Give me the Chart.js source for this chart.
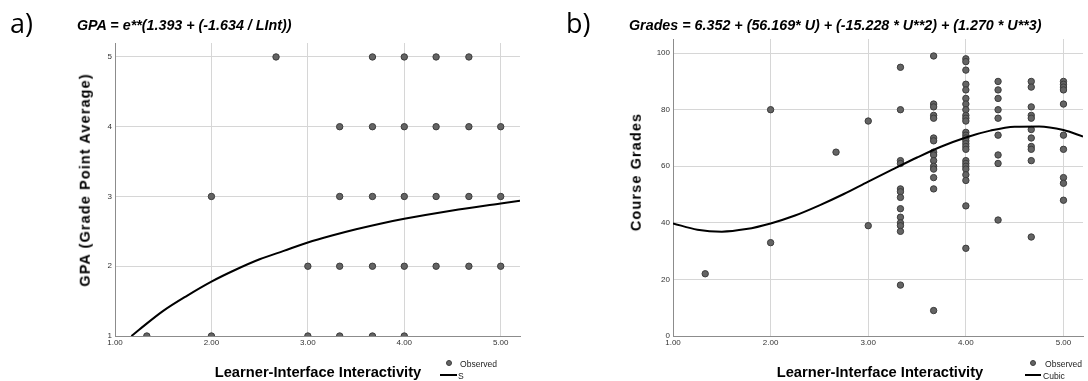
<!DOCTYPE html>
<html>
<head>
<meta charset="utf-8">
<script src="https://cdn.jsdelivr.net/npm/chart.js@4/dist/chart.umd.min.js"></script>
<style>
  html,body{margin:0;padding:0;background:#fff;}
  body{width:1088px;height:381px;position:relative;overflow:hidden;font-family:"Liberation Sans",Arial,sans-serif;}
  canvas{position:absolute;top:0;}
  .abs{position:absolute;white-space:nowrap;color:#000;}
  .panel{font-family:"Open Sans","Liberation Sans",sans-serif;font-size:27px;line-height:1;letter-spacing:0;}
  .title{font-weight:bold;font-style:italic;font-size:14.3px;line-height:1;}
  .xt{font-weight:bold;font-size:14.7px;line-height:1;transform:translate(-50%,-50%);}
  .yt{font-weight:bold;font-size:14.5px;letter-spacing:1.1px;line-height:1;transform:translate(-50%,-50%) rotate(-90deg);}
  .leg{font-family:"Liberation Sans",Arial,sans-serif;font-size:9.5px;line-height:1;color:#222;transform:scaleX(0.9);transform-origin:0 50%;}
  .dot{position:absolute;width:6px;height:6px;border-radius:50%;background:#646464;border:1px solid #3c3c3c;box-sizing:border-box;}
  .ln{position:absolute;height:2px;background:#000;}
</style>
</head>
<body>
<canvas id="c1" width="540" height="381" style="left:0;width:540px;height:381px"></canvas>
<canvas id="c2" width="548" height="381" style="left:540px;width:548px;height:381px"></canvas>

<div class="abs panel" style="left:10px;top:9px;">a)</div>
<div class="abs panel" style="left:566px;top:9px;">b)</div>
<div class="abs title" style="left:77px;top:18px;">GPA = e**(1.393 + (-1.634 / LInt))</div>
<div class="abs title" style="left:629px;top:18px;">Grades = 6.352 + (56.169* U) + (-15.228 * U**2) + (1.270 * U**3)</div>

<div class="abs yt" style="left:85px;top:180px;">GPA (Grade Point Average)</div>
<div class="abs yt" style="left:636px;top:172px;">Course Grades</div>
<div class="abs xt" style="left:318px;top:372px;">Learner-Interface Interactivity</div>
<div class="abs xt" style="left:880px;top:372px;">Learner-Interface Interactivity</div>

<div class="dot" style="left:446px;top:360px;"></div>
<div class="abs leg" style="left:460px;top:359px;">Observed</div>
<div class="ln" style="left:440px;top:374px;width:17px;"></div>
<div class="abs leg" style="left:458px;top:371px;">S</div>

<div class="dot" style="left:1030px;top:360px;"></div>
<div class="abs leg" style="left:1045px;top:359px;">Observed</div>
<div class="ln" style="left:1025px;top:374px;width:16px;"></div>
<div class="abs leg" style="left:1043px;top:371px;">Cubic</div>

<script>
// ---- Data: panel a) GPA vs Learner-Interface Interactivity ----
const gpaObsX = [2.67, 3.67, 4.00, 4.33, 4.67,
                 3.33, 3.67, 4.00, 4.33, 4.67, 5.00,
                 2.00, 3.33, 3.67, 4.00, 4.33, 4.67, 5.00,
                 3.00, 3.33, 3.67, 4.00, 4.33, 4.67, 5.00,
                 1.33, 2.00, 3.00, 3.33, 3.67, 4.00];
const gpaObsY = [5, 5, 5, 5, 5,
                 4, 4, 4, 4, 4, 4,
                 3, 3, 3, 3, 3, 3, 3,
                 2, 2, 2, 2, 2, 2, 2,
                 1, 1, 1, 1, 1, 1];
// S-curve fit
const gpaFitX = [1.17, 1.25, 1.5, 1.75, 2.0, 2.25, 2.5, 2.75, 3.0, 3.25, 3.5, 3.75, 4.0, 4.5, 5.0, 5.2];
const gpaFitY = [1.00, 1.09, 1.36, 1.58, 1.78, 1.95, 2.10, 2.22, 2.34, 2.44, 2.53, 2.61, 2.68, 2.80, 2.90, 2.94];
const gpaTicks = [1, 2, 3, 4, 5];

// ---- Data: panel b) Course Grades vs Learner-Interface Interactivity ----
const gradeLevels = [1.33, 2.00, 2.67, 3.00, 3.33, 3.67, 4.00, 4.33, 4.67, 5.00];
const grades133 = [22];
const grades200 = [80, 33];
const grades267 = [65];
const grades300 = [76, 39];
const grades333 = [95, 80, 62, 61, 52, 51, 49, 45, 42, 40, 39, 37, 18];
const grades367 = [99, 82, 81, 78, 77, 70, 69, 65, 64, 62, 60, 59, 56, 52, 9];
const grades400 = [98, 97, 94, 89, 87, 84, 82, 80, 78, 77, 76, 72, 71, 70, 69, 68, 67, 66, 62, 61, 60, 59, 57, 55, 46, 31];
const grades433 = [90, 87, 84, 80, 77, 71, 64, 61, 41];
const grades467 = [90, 88, 81, 78, 77, 73, 70, 67, 66, 62, 35];
const grades500 = [90, 89, 88, 87, 82, 71, 66, 56, 54, 48];
const gradeGroups = [grades133, grades200, grades267, grades300, grades333, grades367, grades400, grades433, grades467, grades500];
// Cubic fit
const gradeFitX = [1.0, 1.25, 1.5, 1.75, 2.0, 2.25, 2.5, 2.75, 3.0, 3.25, 3.5, 3.75, 4.0, 4.25, 4.5, 4.75, 5.0, 5.2];
const gradeFitY = [39.8, 37.6, 36.9, 37.8, 39.8, 42.6, 46.2, 50.2, 54.6, 58.9, 63.1, 67.0, 70.2, 72.6, 74.0, 74.1, 72.8, 70.5];
const gradeTicks = [0, 20, 40, 60, 80, 100];
const xTicks = [1, 2, 3, 4, 5];

// ---- Chart construction ----
const tickFont = {family: '"Liberation Sans Narrow","Liberation Sans",Arial,sans-serif', size: 8};
const gridColor = '#d6d6d6';
const borderColor = '#8c8c8c';

function makeChart(id, obs, fit, cfg) {
  return new Chart(document.getElementById(id), {
    type: 'scatter',
    data: {
      datasets: [
        {data: fit, showLine: true, borderColor: '#000', borderWidth: 2, pointRadius: 0,
         cubicInterpolationMode: 'monotone', fill: false},
        {data: obs, pointRadius: 3.2, pointBackgroundColor: '#646464', pointBorderColor: '#3c3c3c',
         pointBorderWidth: 1, showLine: false}
      ]
    },
    options: {
      responsive: false, animation: false, devicePixelRatio: 1,
      layout: {padding: {top: cfg.top, right: cfg.right, left: 0, bottom: 0}},
      plugins: {legend: {display: false}, tooltip: {enabled: false}, title: {display: false}},
      scales: {
        x: {
          type: 'linear', min: 1, max: 5.2,
          afterBuildTicks: s => { s.ticks = xTicks.map(v => ({value: v})); },
          afterFit: s => { s.height = 45; },
          ticks: {font: tickFont, color: '#333', padding: 2, callback: v => Number(v).toFixed(2), maxRotation: 0, autoSkip: false},
          grid: {color: gridColor, lineWidth: 1, drawTicks: false},
          border: {color: borderColor, width: 1}
        },
        y: {
          type: 'linear', min: cfg.ymin, max: cfg.ymax,
          afterBuildTicks: s => { s.ticks = cfg.yTicks.map(v => ({value: v})); },
          afterFit: s => { s.width = cfg.yw; },
          ticks: {font: tickFont, color: '#333', padding: 3, autoSkip: false},
          grid: {color: gridColor, lineWidth: 1, drawTicks: false},
          border: {color: borderColor, width: 1}
        }
      }
    }
  });
}

const gpaObs = gpaObsX.map((x, i) => ({x: x, y: gpaObsY[i]}));
const gpaFit = gpaFitX.map((x, i) => ({x: x, y: gpaFitY[i]}));
makeChart('c1', gpaObs, gpaFit, {top: 43, right: 20, ymin: 1, ymax: 5.2, yTicks: gpaTicks, yw: 115});

const gradeObs = [];
gradeLevels.forEach((lv, i) => gradeGroups[i].forEach(g => gradeObs.push({x: lv, y: g})));
const gradeFit = gradeFitX.map((x, i) => ({x: x, y: gradeFitY[i]}));
makeChart('c2', gradeObs, gradeFit, {top: 39, right: 1, ymin: 0, ymax: 105, yTicks: gradeTicks, yw: 133});
</script>
</body>
</html>
